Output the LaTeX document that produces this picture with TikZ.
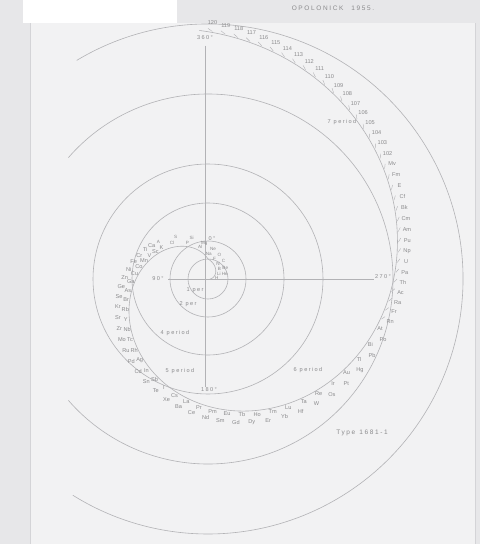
\documentclass[tikz,border=0pt]{standalone}
\usepackage{fontspec}
\setmainfont{Liberation Sans}
\newfontfamily\spc[LetterSpace=25]{Liberation Sans}
\definecolor{bgc}{HTML}{E7E7E9}
\definecolor{paper}{HTML}{F2F2F3}
\definecolor{edge}{HTML}{D4D4D7}
\definecolor{ink}{HTML}{8A8A8C}
\definecolor{linec}{HTML}{B2B2B5}
\tikzset{
  circ/.style={draw=linec, line width=0.6pt},
  tick/.style={draw=linec, line width=0.4pt},
  el/.style={font=\fontsize{5.6}{6}\selectfont, text=ink, inner sep=0pt},
  elsm/.style={font=\fontsize{4.6}{5}\selectfont, text=ink, inner sep=0pt},
  lbl/.style={font=\spc\fontsize{5.6}{6}\selectfont, text=ink, inner sep=0.5pt},
  ttl/.style={font=\spc\fontsize{6.5}{7}\selectfont, text=ink, inner sep=0pt},
}
\begin{document}
\begin{tikzpicture}[x=1pt,y=-1pt]
\useasboundingbox (0,0) rectangle (480,544);
% photo background and sheet
\fill[bgc] (0,0) rectangle (480,544);
\fill[paper] (30,23) rectangle (475,544);
\draw[edge, line width=1pt] (30,23) -- (30,544);
\draw[edge, line width=0.6pt] (475,23) -- (475,544);
\fill[white] (23,0) rectangle (177,23);
\coordinate (O) at (208,279);
% title and type
\node[ttl] (title) at (333,8) {OPOLONICK\hspace{8pt}1955.};
\node[ttl] (type) at (362,433) {Type\hspace{4pt}1681-1};
% concentric shells
\draw[circ] (O) circle[radius=20];
\draw[circ] (O) circle[radius=38];
\draw[circ] (O) circle[radius=76];
\draw[circ] (O) circle[radius=115];
\draw[circ] (O) ++(-139:185) arc[start angle=-139, end angle=139, radius=185];
\draw[circ] (O) ++(-121:255) arc[start angle=-121, end angle=122, radius=255];
% axes and angle labels
\node[lbl] (a360) at (205,38) {360°};
\node[lbl] (a180) at (209,390) {180°};
\node[lbl] (a90) at (158,279) {90°};
\node[lbl] (a270) at (383,277) {270°};
\draw[circ] (a360.south) ++(0,5) -- (a180.north -| a360.south);
\draw[circ] (a90.east) ++(4,0) -- (a270.west |- a90.east);
\node[lbl] (a0) at (212,239) {0°};
% period labels
\node[lbl] (p1) at (195,290) {1 per};
\node[lbl] (p2) at (188,304) {2 per};
\node[lbl] (p4) at (175,333) {4 period};
\node[lbl] (p5) at (180,371) {5 period};
\node[lbl] (p6) at (308,370) {6 period};
\node[lbl] (p7) at (342,122) {7 period};
% the spiral
\draw[circ] plot[domain=-90:0, samples=30, variable=\t]
   ({208-(20+0.2*\t)*sin(\t)},{279-(20+0.2*\t)*cos(\t)})
 -- plot[domain=0:362, samples=220, variable=\t]
   ({208-(20+0.56*\t+0.0002*\t*\t)*sin(\t)},{279-(20+0.56*\t+0.0002*\t*\t)*cos(\t)});
% elements
\foreach \s [count=\z] in {H,He,Li,Be,B,C,N,O,F,Ne,Na,Mg,Al,Si,P,S,Cl,A,K,Ca,Sc,Ti,V,Cr,Mn,Fe,Co,Ni,Cu,Zn,Ga,Ge,As,Se,Br,Kr,Rb,Sr,Y,Zr,Nb,Mo,Tc,Ru,Rh,Pd,Ag,Cd,In,Sn,Sb,Te,I,Xe,Cs,Ba,La,Ce,Pr,Nd,Pm,Sm,Eu,Gd,Tb,Dy,Ho,Er,Tm,Yb,Lu,Hf,Ta,W,Re,Os,Ir,Pt,Au,Hg,Tl,Pb,Bi,Po,At,Rn,Fr,Ra,Ac,Th,Pa,U,Np,Pu,Am,Cm,Bk,Cf,E,Fm,Mv,102,103,104,105,106,107,108,109,110,111,112,113,114,115,116,117,118,119,120}{
  \ifnum\z<19
    \pgfmathsetmacro\th{-80+(\z-1)*133/17}
    \pgfmathsetmacro\rs{ifthenelse(\th<0, 20+0.2*\th, 20+0.56*\th+0.0002*\th*\th)}
    \pgfmathsetmacro\off{ifthenelse(mod(\z,2)==1, 5, 12)}
    \node[elsm] (e\z) at ({208-(\rs+\off)*sin(\th)},{279-(\rs+\off)*cos(\th)}) {\s};
  \else
    \pgfmathsetmacro\th{3*\z-1}
    \pgfmathsetmacro\rs{20+0.56*\th+0.0002*\th*\th}
    \pgfmathsetmacro\off{ifthenelse(\z>85, 10, ifthenelse(mod(\z,2)==1, 4, 12))}
    \node[el] (e\z) at ({208-(\rs+\off)*sin(\th)},{279-(\rs+\off)*cos(\th)}) {\s};
  \fi
  \ifnum\z>85
    \draw[tick] ({208-(\rs+1)*sin(\th)},{279-(\rs+1)*cos(\th)}) -- ({208-(\rs+4)*sin(\th+1)},{279-(\rs+4)*cos(\th+1)});
  \fi
}
\end{tikzpicture}
\end{document}
